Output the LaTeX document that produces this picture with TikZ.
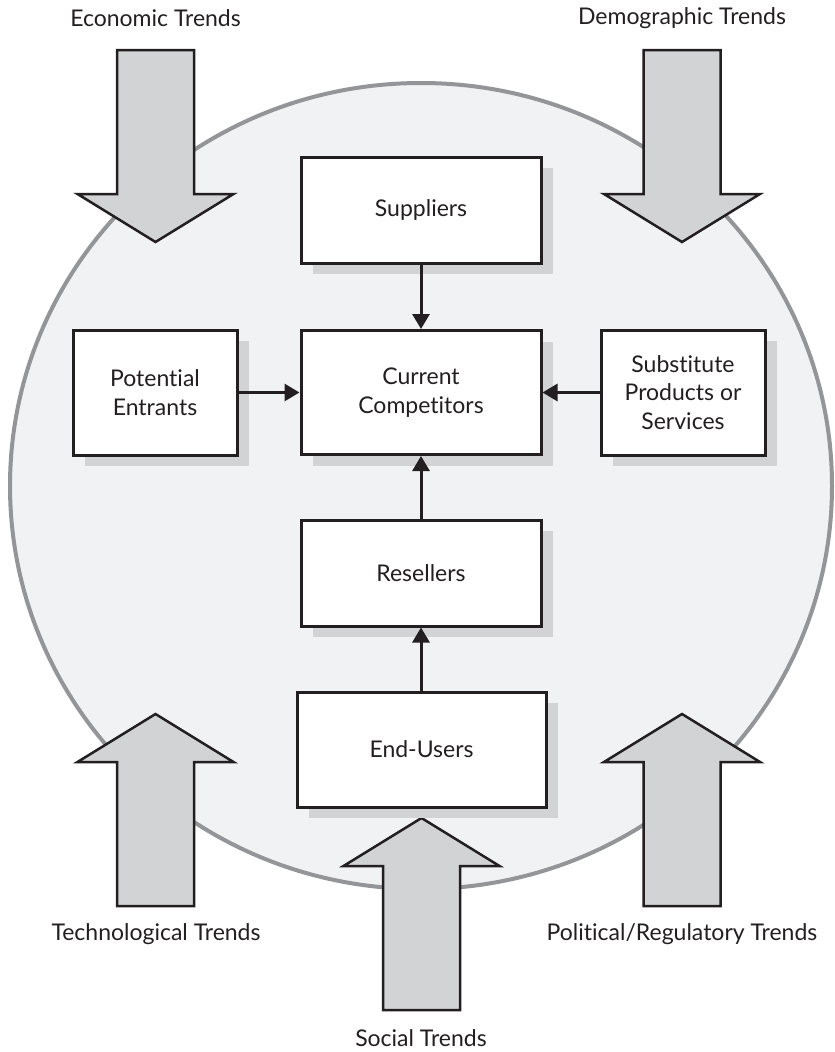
\documentclass[tikz,border=0pt]{standalone}
\usepackage{fontspec}
\setmainfont{Lato}[Ligatures=NoCommon]
\usetikzlibrary{arrows.meta,shadows}
\definecolor{ink}{HTML}{231F20}
\definecolor{ringgray}{HTML}{939598}
\definecolor{ringfill}{HTML}{F1F2F4}
\definecolor{paleshade}{HTML}{D1D3D4}
\tikzset{
  box/.style={draw=ink, line width=3pt, fill=white, inner sep=0pt,
    align=center, text=ink, font=\fontsize{23}{28.5}\selectfont,
    drop shadow={shadow xshift=12pt, shadow yshift=-11pt, fill=paleshade, opacity=1}},
  link/.style={draw=ink, line width=3pt, -{Triangle[width=17pt,length=15pt]}},
  trendlabel/.style={text=ink, font=\fontsize{23}{27}\selectfont, inner sep=0pt},
  trend/.pic={
    \draw[draw=ink, fill=paleshade, line width=2.5pt, line join=miter]
      (-38.5,0) -- (38.5,0) -- (38.5,144) -- (78,144) -- (0,192)
      -- (-78,144) -- (-38.5,144) -- cycle;
  }
}
\begin{document}
\begin{tikzpicture}[x=1pt, y=-1pt]
\useasboundingbox (0,0) rectangle (835,1052);

% the market environment
\draw[draw=ringgray, fill=ringfill, line width=4pt]
  (421,486) ellipse [x radius=411pt, y radius=403pt];

% outside trends pressing on the market
\pic at (155.5,50) {trend};
\pic at (682,50) {trend};
\pic[rotate=180] at (155.5,906) {trend};
\pic[rotate=180] at (682,906) {trend};
\pic[rotate=180] at (421.5,1010) {trend};

\node[trendlabel] (econ) at (155.5,18) {Economic Trends};
\node[trendlabel] (demo) at (682,18) {Demographic Trends};
\node[trendlabel] (tech) at (156,934) {Technological Trends};
\node[trendlabel] (poli) at (682,934) {Political/Regulatory Trends};
\node[trendlabel] (soc) at (421,1038) {Social Trends};

% industry players
\node[box, minimum width=240pt, minimum height=106pt] (sup) at (421,210) {Suppliers};
\node[box, minimum width=240pt, minimum height=124pt] (cur) at (421,392.5) {Current\\Competitors};
\node[box, minimum width=164pt, minimum height=125pt] (pot) at (155,392.5) {Potential\\Entrants};
\node[box, minimum width=164pt, minimum height=125pt] (subs) at (683,392.5) {Substitute\\Products or\\Services};
\node[box, minimum width=240pt, minimum height=106pt] (res) at (421,573) {Resellers};
\node[box, minimum width=249pt, minimum height=115pt] (end) at (421.5,749.5) {End-Users};

% forces acting on current competitors
\draw[link] (sup) -- (cur);
\draw[link] (pot) -- (cur);
\draw[link] (subs) -- (cur);
\draw[link] (res) -- (cur);
\draw[link] (end.north -| res.south) -- (res);
\end{tikzpicture}
\end{document}
